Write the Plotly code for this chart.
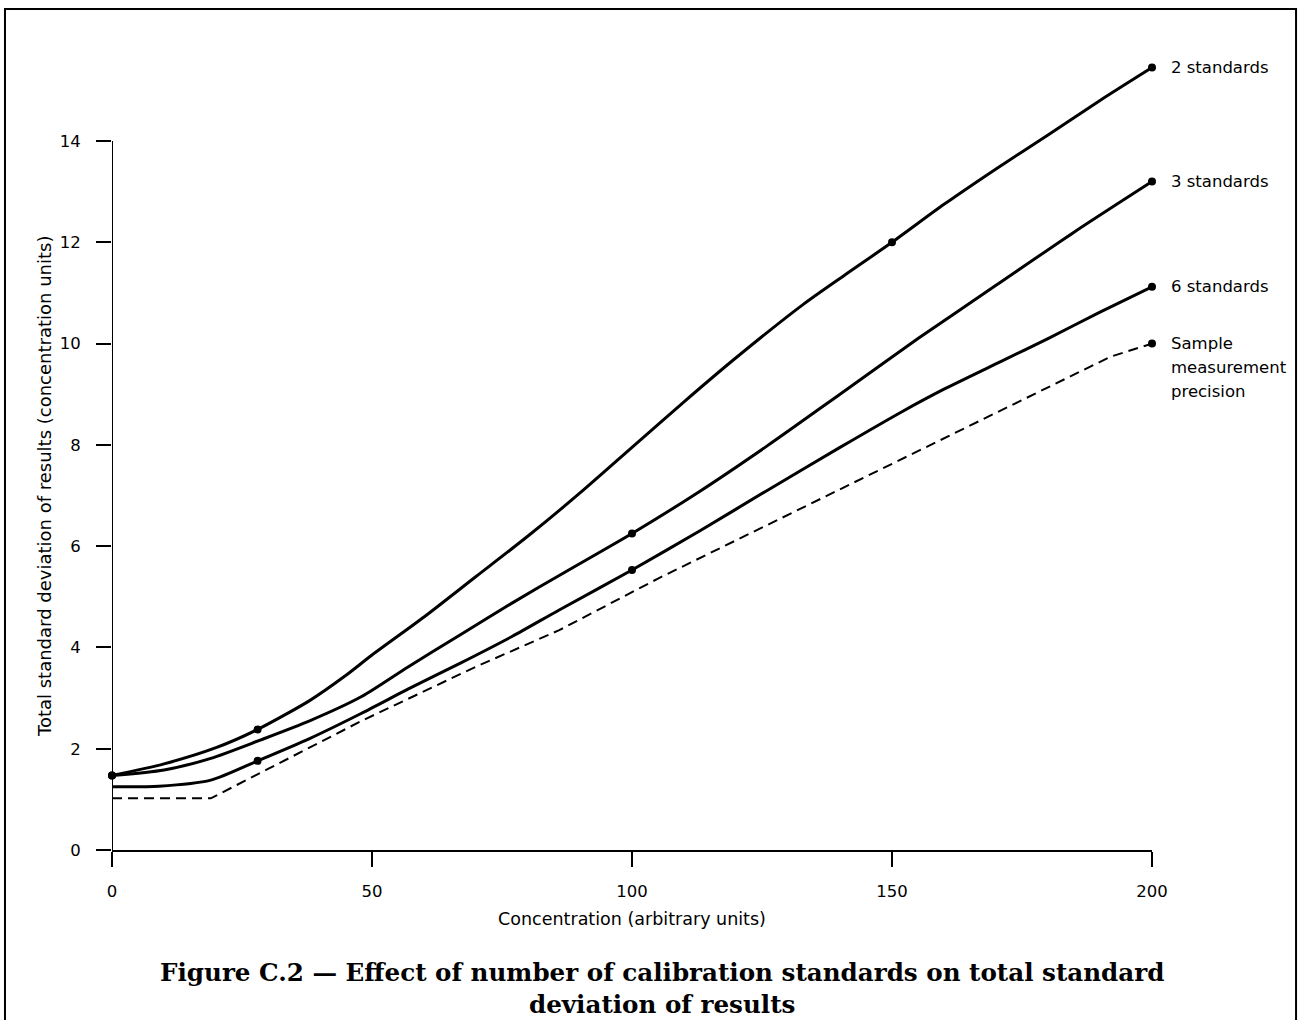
import plotly.graph_objects as go

# ---- data ----
conc_2 = [0, 10, 20, 28, 38, 45, 50, 60, 70, 80, 90, 100, 110, 120, 133, 141, 150, 160, 170, 180, 190, 200]
sd_2 = [1.47, 1.70, 2.02, 2.38, 2.95, 3.45, 3.85, 4.60, 5.40, 6.20, 7.05, 7.95, 8.85, 9.72, 10.78, 11.36, 12.0, 12.75, 13.45, 14.12, 14.8, 15.45]
dots2_x = [0, 28, 150, 200]
dots2_y = [1.47, 2.38, 12.0, 15.45]

conc_3 = [0, 10, 19, 28.5, 38, 48, 57, 67, 77, 87, 100, 113, 126, 140, 155, 170, 185, 200]
sd_3 = [1.47, 1.58, 1.81, 2.17, 2.55, 3.03, 3.62, 4.25, 4.88, 5.48, 6.25, 7.08, 7.98, 9.00, 10.10, 11.15, 12.2, 13.2]
dots3_x = [0, 100, 200]
dots3_y = [1.47, 6.25, 13.2]

conc_6 = [0, 9, 19, 28, 38, 48, 57, 67, 77, 86, 100, 113, 126, 140, 152, 160, 171, 180, 190, 200]
sd_6 = [1.25, 1.26, 1.38, 1.76, 2.20, 2.70, 3.18, 3.69, 4.22, 4.74, 5.53, 6.30, 7.10, 7.95, 8.66, 9.10, 9.65, 10.10, 10.62, 11.12]
dots6_x = [28, 100, 200]
dots6_y = [1.76, 5.53, 11.12]

conc_s = [0, 19, 30, 48, 70, 86, 105, 130, 155, 177, 192, 200]
sd_s = [1.02, 1.02, 1.60, 2.55, 3.62, 4.34, 5.36, 6.62, 7.88, 8.98, 9.74, 10.0]
dotss_x = [200]
dotss_y = [10.0]

x_ticks = [0, 50, 100, 150, 200]
y_ticks = [0, 2, 4, 6, 8, 10, 12, 14]

series_labels = ["2 standards", "3 standards", "6 standards"]
label_y = [15.45, 13.2, 11.12]
sample_label_lines = ["Sample", "measurement", "precision"]

x_title = "Concentration (arbitrary units)"
y_title = "Total standard deviation of results (concentration units)"
caption = "Figure C.2 — Effect of number of calibration standards on total standard<br>deviation of results"

# ---- figure ----
FONT = "DejaVu Sans"
fig = go.Figure()

for xs, ys in [(conc_2, sd_2), (conc_3, sd_3), (conc_6, sd_6)]:
    fig.add_trace(go.Scatter(x=xs, y=ys, mode="lines",
                             line=dict(color="black", width=3, shape="spline", smoothing=0.7),
                             cliponaxis=False, showlegend=False, hoverinfo="skip"))
fig.add_trace(go.Scatter(x=conc_s, y=sd_s, mode="lines",
                         line=dict(color="black", width=2, dash="10px,6px", shape="linear"),
                         cliponaxis=False, showlegend=False, hoverinfo="skip"))

for dx, dy in [(dots2_x, dots2_y), (dots3_x, dots3_y), (dots6_x, dots6_y), (dotss_x, dotss_y)]:
    fig.add_trace(go.Scatter(x=dx, y=dy, mode="markers",
                             marker=dict(color="black", size=8),
                             cliponaxis=False, showlegend=False, hoverinfo="skip"))

for txt, yy in zip(series_labels, label_y):
    fig.add_annotation(x=200, y=yy, xref="x", yref="y", text=txt, showarrow=False,
                       xanchor="left", yanchor="middle", xshift=17,
                       font=dict(family=FONT, size=16.5, color="black"))
for i, txt in enumerate(sample_label_lines):
    fig.add_annotation(x=200, y=10.0, xref="x", yref="y", text=txt, showarrow=False,
                       xanchor="left", yanchor="middle", xshift=17, yshift=-24 * i,
                       font=dict(family=FONT, size=16.5, color="black"))

# y-axis title (centred on the 0-14 span as in the reference)
fig.add_annotation(x=-0.0644, y=0.4595, xref="paper", yref="paper", text=y_title, showarrow=False,
                   textangle=-90, xanchor="center", yanchor="middle",
                   font=dict(family=FONT, size=18, color="black"))

fig.add_annotation(x=0.5288, y=-0.1753, xref="paper", yref="paper", text="<b>" + caption + "</b>",
                   showarrow=False, xanchor="center", yanchor="middle", align="center",
                   font=dict(family="DejaVu Serif", size=24.6, color="black"))

# y axis line only up to 14
fig.add_shape(type="line", xref="x", yref="y", x0=0, x1=0, y0=0, y1=14,
              line=dict(color="black", width=2), layer="above")
# page frame
fig.add_shape(type="rect", xref="paper", yref="paper", x0=-0.1029, x1=1.1385, y0=-0.25, y1=1.0646,
              line=dict(color="black", width=2))

fig.update_layout(
    width=1299, height=1020,
    margin=dict(l=112, r=147, t=60, b=170),
    paper_bgcolor="white", plot_bgcolor="white",
    font=dict(family=FONT, size=16.5, color="black"),
    xaxis=dict(range=[0, 200], tickvals=x_ticks, ticks="outside", ticklen=15, tickwidth=1.5,
               tickcolor="black", showline=True, linecolor="black", linewidth=2,
               showgrid=False, zeroline=False, ticklabelstandoff=10,
               title=dict(text=x_title, standoff=13, font=dict(size=17.5))),
    yaxis=dict(range=[0, 15.6], tickvals=y_ticks, ticks="outside", ticklen=15, tickwidth=1.5,
               tickcolor="black", showline=False, showgrid=False, zeroline=False,
               ticklabelstandoff=12),
)

fig.write_html("out.html", config={"displayModeBar": False},
               post_script="document.body.style.margin='0';document.body.style.overflow='hidden';")
